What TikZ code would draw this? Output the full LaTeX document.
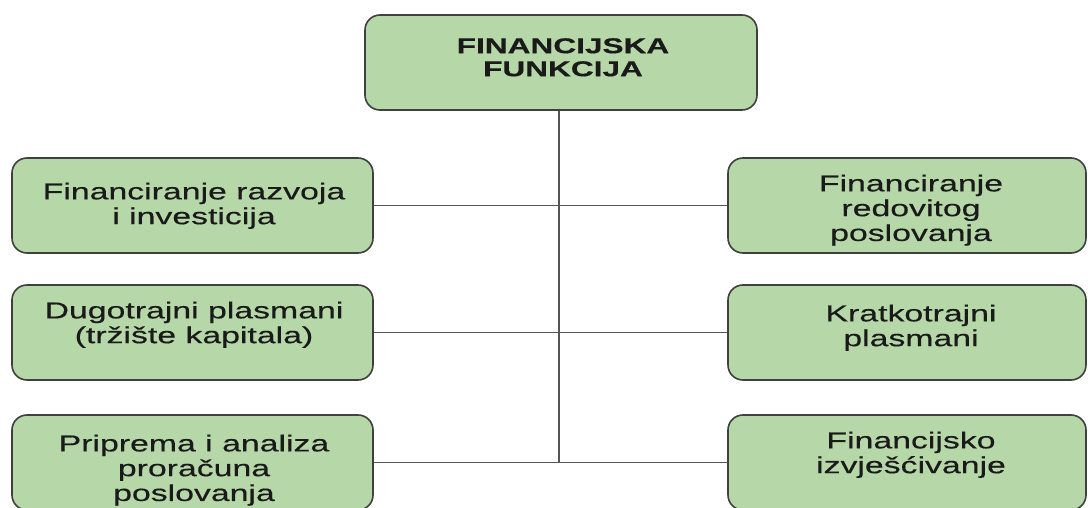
\documentclass[tikz,border=0pt]{standalone}
\usepackage{fontspec}
\setmainfont{Liberation Sans}[FakeStretch=1.47,
  UprightFeatures={FakeBold=0.35}, BoldFeatures={FakeBold=0.4}]
\definecolor{boxfill}{HTML}{B6D7A8}
\definecolor{boxline}{HTML}{404040}
\definecolor{connline}{HTML}{555555}
\definecolor{txt}{HTML}{1A1A1A}
\begin{document}
\begin{tikzpicture}[x=1pt,y=-1pt,
  box/.style={draw=boxline, line width=1.6pt, fill=boxfill, rounded corners=15pt,
    inner sep=0pt},
  leftbox/.style={box, minimum width=361pt, minimum height=95pt},
  rightbox/.style={box, minimum width=358pt, minimum height=95pt},
  label/.style={anchor=north, inner sep=0pt, align=center, text=txt,
    font=\fontsize{23}{24.8}\selectfont},
  toplabel/.style={label, font=\bfseries\fontsize{21.5}{23}\selectfont},
  conn/.style={draw=connline, line width=1.3pt}]
\clip (0,0) rectangle (1088,508);
\useasboundingbox (0,0) rectangle (1088,508);
\fill[white] (0,0) rectangle (1088,508);
% boxes
\node[box, minimum width=392pt, minimum height=95pt] (top) at (561,62.5) {};
\node[leftbox] (L1) at (192.5,205.5) {};
\node[leftbox] (L2) at (192.5,332.5) {};
\node[leftbox] (L3) at (192.5,462.5) {};
\node[rightbox] (R1) at (907,205.5) {};
\node[rightbox] (R2) at (907,332.5) {};
\node[rightbox] (R3) at (907,462.5) {};
% texts
\node[toplabel] (topt) at (563,38) {FINANCIJSKA\\FUNKCIJA};
\node[label] (L1t) at (194,182.5) {Financiranje razvoja\\i investicija};
\node[label] (L2t) at (194,301.5) {Dugotrajni plasmani\\(tržište kapitala)};
\node[label] (L3t) at (194,434.5) {Priprema i analiza\\proračuna\\poslovanja};
\node[label] (R1t) at (911,174.5) {Financiranje\\redovitog\\poslovanja};
\node[label] (R2t) at (911,304.5) {Kratkotrajni\\plasmani};
\node[label] (R3t) at (911,431.5) {Financijsko\\izvješćivanje};
% connectors
\coordinate (trunkend) at (L3.east -| 559,0);
\coordinate (trunktop) at (top.south -| 559,0);
\draw[conn] (trunktop) -- (trunkend);
\draw[conn] (L1.east) -- (R1.west);
\draw[conn] (L2.east) -- (R2.west);
\draw[conn] (L3.east) -- (R3.west);
\end{tikzpicture}
\end{document}
